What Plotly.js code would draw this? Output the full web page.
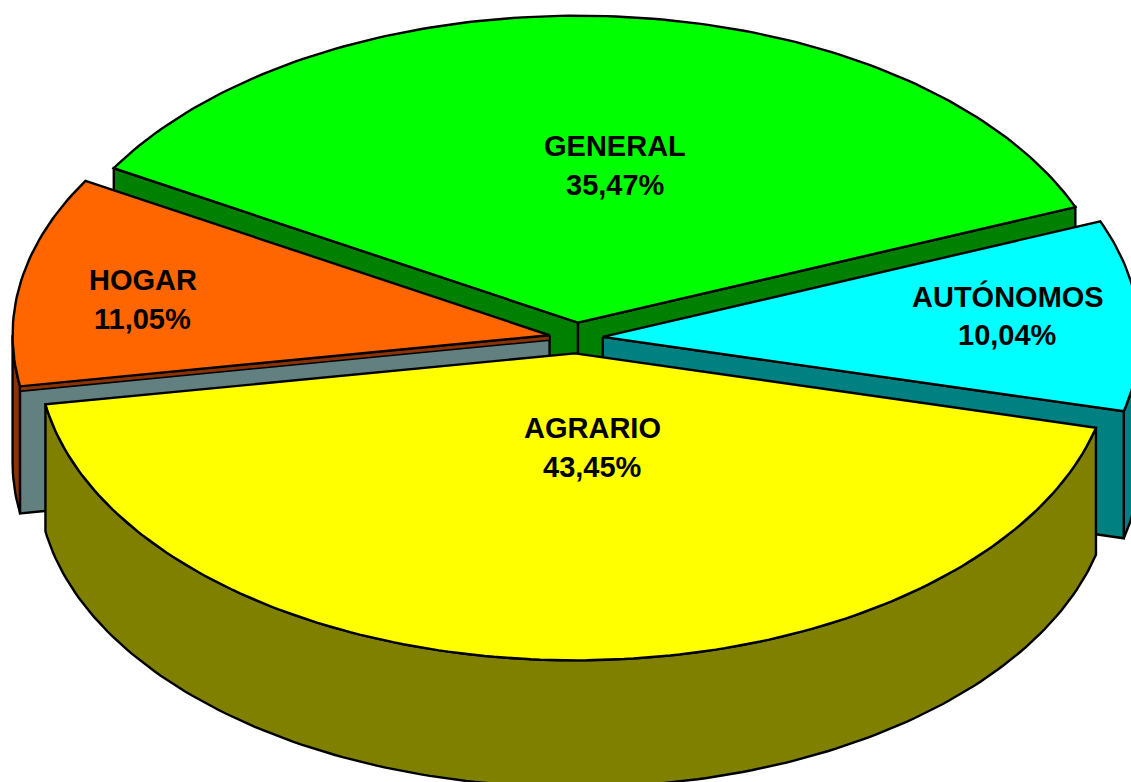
<!DOCTYPE html>
<html>
<head>
<meta charset="utf-8">
<script src="https://cdn.plot.ly/plotly-3.0.1.min.js"></script>
<style>html,body{margin:0;padding:0;background:#fff;}#chart{width:1131px;height:782px;}</style>
</head>
<body>
<div id="chart"></div>
<script>
// ---- data (clockwise order around the pie) ----
const categories = ['GENERAL', 'AUTÓNOMOS', 'AGRARIO', 'HOGAR'];
const values = [35.47, 10.04, 43.45, 11.05];

// ---- styles ----
const topColors = ['#00FF00', '#00FFFF', '#FFFF00', '#FF6600'];
const wallColors = ['#008000', '#008080', '#808000', '#8B3300'];
const faceColors = ['#008000', '#008080', '#808000', '#638080'];
const stripColors = [null, null, null, '#8B3300'];
const labelRadius = [0.51, 0.756, 0.306, 0.77];
const labelXShift = [18, 0, 24, 0];
const labelYShift = [1, 5, 0, -7];

// ---- 3D pie geometry (layout) ----
const cx = 576, cy = 338, rx = 537, ry = 307, depth = 127;
const startAngle = 149.8;   // degrees, math convention
const explode = 0.05;
const deg = Math.PI / 180;

const total = values.reduce((a, b) => a + b, 0);
let cum = 0;
const slices = values.map((v, i) => {
  const hi = startAngle - cum / total * 360;
  cum += v;
  const lo = startAngle - cum / total * 360;
  const mid = (hi + lo) / 2;
  const ox = explode * rx * Math.cos(mid * deg);
  const oy = -explode * ry * Math.sin(mid * deg);
  return {i, hi, lo, mid, ox, oy};
});

function pt(s, t, r, h) {
  return [cx + s.ox + r * rx * Math.cos(t * deg), cy + s.oy - r * ry * Math.sin(t * deg) + h];
}
function arc(s, from, to, h) {
  const n = Math.max(2, Math.ceil(Math.abs(to - from)));
  const out = [];
  for (let k = 0; k <= n; k++) out.push(pt(s, from + (to - from) * k / n, 1, h));
  return out;
}
function poly(points, fill, lw) {
  const xs = points.map(p => p[0]); const ys = points.map(p => p[1]);
  xs.push(points[0][0]); ys.push(points[0][1]);
  return {type: 'scatter', mode: 'lines', x: xs, y: ys, fill: 'toself', fillcolor: fill,
          line: {color: '#000', width: lw || 2.4}, hoverinfo: 'skip', showlegend: false};
}

const traces = [];
const order = slices.slice().sort((a, b) => Math.sin(b.mid * deg) - Math.sin(a.mid * deg));
order.forEach(s => {
  // outer wall (front-facing part)
  for (let k = -1; k <= 1; k++) {
    const a = Math.max(s.lo, -180 + 360 * k), b = Math.min(s.hi, 360 * k);
    if (b > a) {
      const top = arc(s, a, b, 0);
      const bot = arc(s, b, a, depth);
      traces.push(poly(top.concat(bot), wallColors[s.i]));
    }
  }
  // radial faces
  [[s.lo, s.lo - 90], [s.hi, s.hi + 90]].forEach(([a, nrm]) => {
    if (Math.sin(nrm * deg) < 0) {
      const c0 = pt(s, a, 0, 0), r0 = pt(s, a, 1, 0), r1 = pt(s, a, 1, depth), c1 = pt(s, a, 0, depth);
      traces.push(poly([c0, r0, r1, c1], faceColors[s.i]));
      if (stripColors[s.i]) {
        traces.push(poly([c0, r0, pt(s, a, 1, 5), pt(s, a, 0, 5)], stripColors[s.i], 1.6));
      }
    }
  });
  // top
  const topPts = [pt(s, s.mid, 0, 0)].concat(arc(s, s.hi, s.lo, 0));
  traces.push(poly(topPts, topColors[s.i]));
});

const annotations = [];
slices.forEach(s => {
  const p = pt(s, s.mid, labelRadius[s.i], 0);
  const pct = values[s.i].toFixed(2).replace('.', ',') + '%';
  [[categories[s.i], 19.5], [pct, -19.5]].forEach(([txt, ys]) => {
    annotations.push({x: p[0], y: p[1], xref: 'x', yref: 'y', text: txt, showarrow: false,
      xshift: labelXShift[s.i], yshift: ys + labelYShift[s.i],
      font: {family: 'Liberation Sans, Arial, sans-serif', size: 29, color: '#000', weight: 'bold'}});
  });
});

Plotly.newPlot('chart', traces, {
  width: 1131, height: 782,
  margin: {l: 0, r: 0, t: 0, b: 0},
  paper_bgcolor: '#fff', plot_bgcolor: '#fff',
  xaxis: {range: [0, 1131], visible: false, fixedrange: true},
  yaxis: {range: [782, 0], visible: false, fixedrange: true},
  showlegend: false,
  annotations: annotations
}, {staticPlot: true});
</script>
</body>
</html>
